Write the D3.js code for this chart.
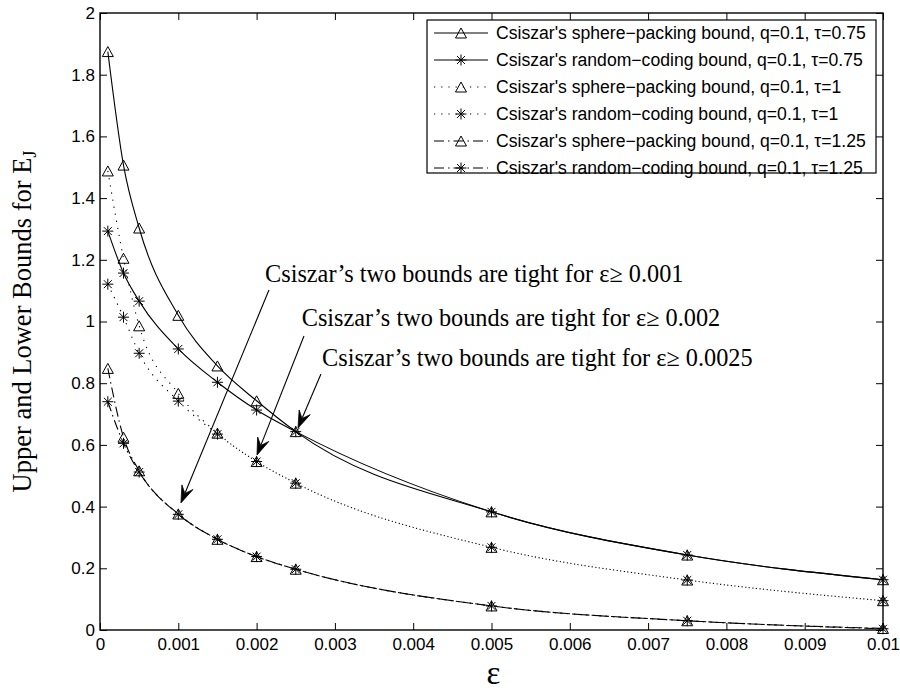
<!DOCTYPE html>
<html><head><meta charset="utf-8">
<script src="https://cdn.jsdelivr.net/npm/d3@7/dist/d3.min.js"></script>
<style>html,body{margin:0;padding:0;background:#fff;}svg{display:block;}</style>
</head><body>
<svg id="chart" width="900" height="690"></svg>
<script>
// ---- data ----
const eps = [0.0001,0.0003,0.0005,0.001,0.0015,0.002,0.0025,0.005,0.0075,0.01];
const sp075 = [1.875,1.507,1.303,1.020,0.856,0.743,0.643,0.383,0.243,0.163];
const rc075 = [1.293,1.157,1.066,0.911,0.803,0.713,0.643,0.383,0.243,0.163];
const sp100 = [1.488,1.205,0.986,0.767,0.638,0.546,0.476,0.268,0.162,0.095];
const rc100 = [1.121,1.014,0.897,0.742,0.635,0.546,0.476,0.268,0.162,0.095];
const sp125 = [0.848,0.625,0.516,0.376,0.294,0.238,0.197,0.078,0.030,0.005];
const rc125 = [0.740,0.605,0.512,0.375,0.294,0.238,0.197,0.078,0.030,0.004];
const seriesNames = [
  "Csiszar's sphere\u2212packing bound, q=0.1, \u03c4=0.75",
  "Csiszar's random\u2212coding bound, q=0.1, \u03c4=0.75",
  "Csiszar's sphere\u2212packing bound, q=0.1, \u03c4=1",
  "Csiszar's random\u2212coding bound, q=0.1, \u03c4=1",
  "Csiszar's sphere\u2212packing bound, q=0.1, \u03c4=1.25",
  "Csiszar's random\u2212coding bound, q=0.1, \u03c4=1.25"
];
const xTicks = [0,0.001,0.002,0.003,0.004,0.005,0.006,0.007,0.008,0.009,0.01];
const xTickLabels = ["0","0.001","0.002","0.003","0.004","0.005","0.006","0.007","0.008","0.009","0.01"];
const yTicks = [0,0.2,0.4,0.6,0.8,1,1.2,1.4,1.6,1.8,2];
const yTickLabels = ["0","0.2","0.4","0.6","0.8","1","1.2","1.4","1.6","1.8","2"];
const annoTexts = ["Csiszar\u2019s two bounds are tight for \u03b5\u2265 0.001",
                   "Csiszar\u2019s two bounds are tight for \u03b5\u2265 0.002",
                   "Csiszar\u2019s two bounds are tight for \u03b5\u2265 0.0025"];
const annoTextX = [0.002107,0.002576,0.002835];
const annoTextY = [1.128,0.986,0.855];
const arrowFromX = [0.002158,0.002605,0.002822];
const arrowFromY = [1.102,0.953,0.830];
const arrowToX = [0.001034,0.002005,0.002529];
const arrowToY = [0.412,0.567,0.655];

// ---- styles ----
const seriesData = [sp075,rc075,sp100,rc100,sp125,rc125];
const markerType = ["tri","star","tri","star","tri","star"];
const dashes = [null,null,"1.2,6","1.2,6","10,4,1.5,4","10,4,1.5,4"];

const svg = d3.select("#chart");
const L=100,R=883,T=13,B=630;
const x = d3.scaleLinear().domain([0,0.01]).range([L,R]);
const y = d3.scaleLinear().domain([0,2]).range([B,T]);

// axes box
const tickLen = 7;
const gx = svg.append("g").attr("transform",`translate(0,${B})`)
  .call(d3.axisBottom(x).tickValues(xTicks).tickFormat((d,i)=>xTickLabels[i]).tickSizeInner(-tickLen).tickSizeOuter(0).tickPadding(8));
const gxt = svg.append("g").attr("transform",`translate(0,${T})`)
  .call(d3.axisTop(x).tickValues(xTicks).tickFormat("").tickSizeInner(-tickLen).tickSizeOuter(0));
const gy = svg.append("g").attr("transform",`translate(${L},0)`)
  .call(d3.axisLeft(y).tickValues(yTicks).tickFormat((d,i)=>yTickLabels[i]).tickSizeInner(-tickLen).tickSizeOuter(0).tickPadding(5));
const gyr = svg.append("g").attr("transform",`translate(${R},0)`)
  .call(d3.axisRight(y).tickValues(yTicks).tickFormat("").tickSizeInner(-tickLen).tickSizeOuter(0));
[gx,gxt,gy,gyr].forEach(g=>{
  g.select(".domain").remove();
  g.selectAll("line").attr("stroke","#000").attr("stroke-width",1);
  g.selectAll("text").attr("font-family","'Liberation Sans',Arial,Helvetica,sans-serif").attr("font-size",17).attr("fill","#000");
});
svg.append("rect").attr("x",L).attr("y",T).attr("width",R-L).attr("height",B-T)
  .attr("fill","none").attr("stroke","#000").attr("stroke-width",1.4);

// lines
const line = d3.line().x((d,i)=>x(eps[i])).y(d=>y(d)).curve(d3.curveMonotoneX);
seriesData.forEach((s,k)=>{
  svg.append("path").attr("d",line(s)).attr("fill","none").attr("stroke","#000")
    .attr("stroke-width",1.1).attr("stroke-dasharray",dashes[k]);
});

function drawMarker(g,type,cx,cy){
  if(type==="tri"){
    const w=5.5,h=5;
    g.append("path").attr("d",`M${cx},${cy-h}L${cx+w},${cy+h}L${cx-w},${cy+h}Z`)
      .attr("fill","none").attr("stroke","#000").attr("stroke-width",1);
  } else {
    const r=5.5,d=r*0.72;
    g.append("path").attr("d",`M${cx},${cy-r}L${cx},${cy+r}M${cx-r},${cy}L${cx+r},${cy}M${cx-d},${cy-d}L${cx+d},${cy+d}M${cx-d},${cy+d}L${cx+d},${cy-d}`)
      .attr("fill","none").attr("stroke","#000").attr("stroke-width",1);
  }
}
const mg = svg.append("g");
seriesData.forEach((s,k)=>{
  s.forEach((v,i)=>drawMarker(mg,markerType[k],x(eps[i]),y(v)));
});

// legend
const lg = svg.append("g");
lg.append("rect").attr("x",427).attr("y",20).attr("width",449).attr("height",153)
  .attr("fill","#fff").attr("stroke","#000").attr("stroke-width",1.2);
seriesNames.forEach((n,k)=>{
  const cy = 33 + k*27;
  lg.append("line").attr("x1",434).attr("x2",488).attr("y1",cy).attr("y2",cy)
    .attr("stroke","#000").attr("stroke-width",1.1).attr("stroke-dasharray",dashes[k]);
  drawMarker(lg,markerType[k],461,cy);
  lg.append("text").attr("x",496).attr("y",cy).attr("dy","0.35em")
    .attr("font-family","'Liberation Sans',Arial,Helvetica,sans-serif").attr("font-size",17.6)
    .text(n);
});

// annotations
const ag = svg.append("g");
annoTexts.forEach((t,k)=>{
  ag.append("text").attr("x",x(annoTextX[k])).attr("y",y(annoTextY[k]))
    .attr("font-family","'Liberation Serif','Times New Roman',serif").attr("font-size",24.3)
    .text(t);
  const x1=x(arrowFromX[k]),y1=y(arrowFromY[k]),x2=x(arrowToX[k]),y2=y(arrowToY[k]);
  const ang=Math.atan2(y2-y1,x2-x1), Lh=17, Wh=6;
  const bx=x2-Lh*Math.cos(ang), by=y2-Lh*Math.sin(ang);
  ag.append("line").attr("x1",x1).attr("y1",y1).attr("x2",bx+6*Math.cos(ang)).attr("y2",by+6*Math.sin(ang))
    .attr("stroke","#000").attr("stroke-width",1.1);
  const px=-Math.sin(ang), py=Math.cos(ang);
  const nx=x2-Lh*0.6*Math.cos(ang), ny=y2-Lh*0.6*Math.sin(ang);
  ag.append("path").attr("d",`M${x2},${y2}L${bx+Wh*px},${by+Wh*py}L${nx},${ny}L${bx-Wh*px},${by-Wh*py}Z`)
    .attr("fill","#000").attr("stroke","#000").attr("stroke-width",0.8);
});

// axis titles
svg.append("text").attr("x",(L+R)/2+2).attr("y",684).attr("text-anchor","middle")
  .attr("font-family","'Liberation Serif','Times New Roman',serif").attr("font-size",33).text("\u03b5");
const yl = svg.append("text").attr("transform",`translate(31,${(T+B)/2}) rotate(-90)`).attr("text-anchor","middle")
  .attr("font-family","'Liberation Serif','Times New Roman',serif").attr("font-size",26.5);
yl.append("tspan").text("Upper and Lower Bounds for E");
yl.append("tspan").attr("font-size",18).attr("dy",5).text("J");
</script>
</body></html>
